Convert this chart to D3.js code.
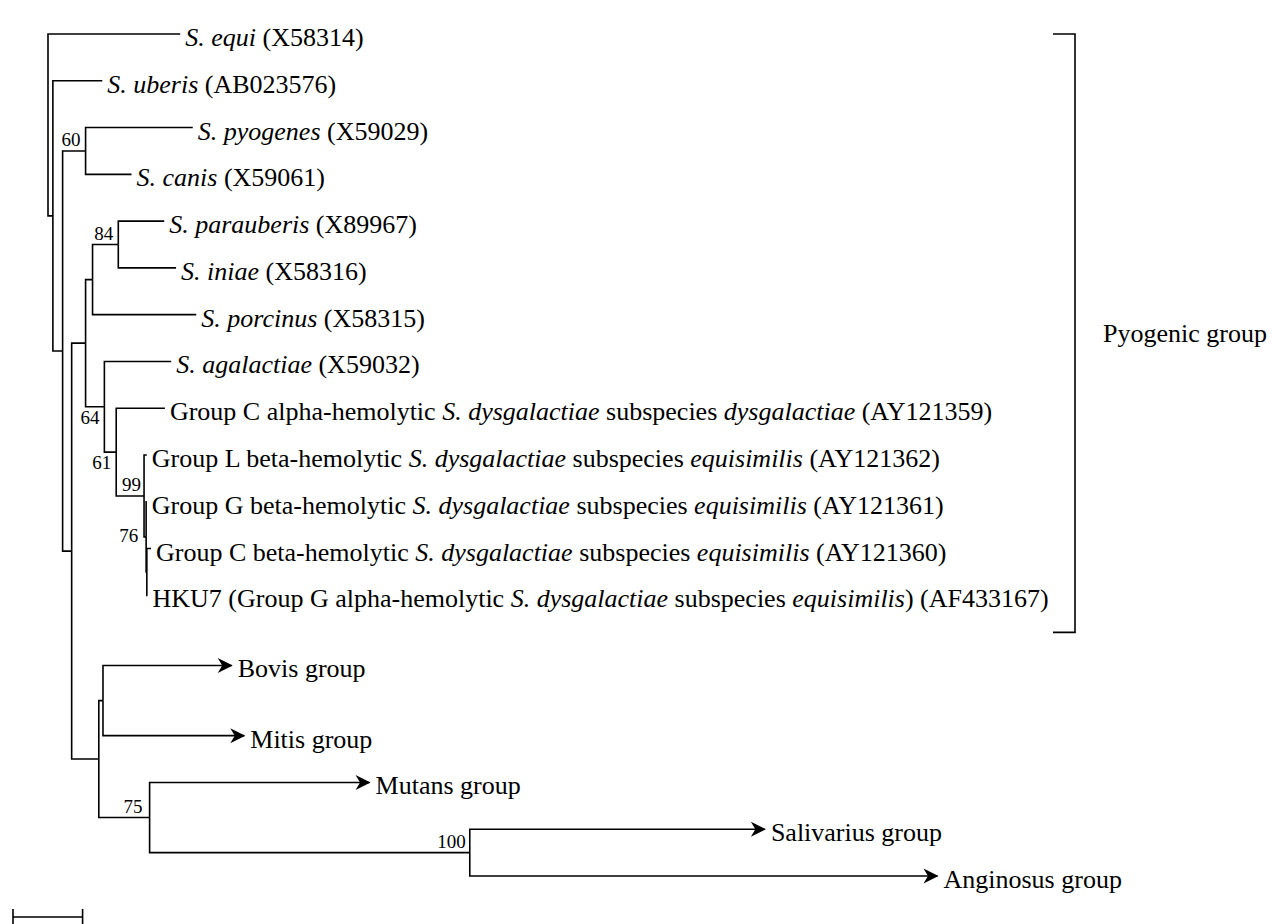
<!DOCTYPE html>
<html>
<head>
<meta charset="utf-8">
<script src="https://cdn.jsdelivr.net/npm/d3@7"></script>
<style>
  body { margin: 0; background: #fff; }
  svg { display: block; }
  text { font-family: "Liberation Serif", "Times New Roman", serif; fill: #000; }
  .branch { fill: none; stroke: #000; stroke-width: 1.6; }
</style>
</head>
<body>
<svg width="1272" height="924"></svg>
<script>
// tree topology: node id, parent id, branch length (substitutions/site)
var nodeIds = ["n0", "equi", "n1", "uberis", "n3", "n60", "pyogenes", "canis",
  "n4", "n5", "n7", "n84", "parauberis", "iniae", "porcinus",
  "n64", "agalactiae", "n61", "cAlpha", "n99", "gL", "n76", "gG", "nc", "cBeta", "hku7",
  "n8", "nBM", "bovis", "mitis", "n75", "mutans", "n100", "salivarius", "anginosus"];
var parentIds = ["", "n0", "n0", "n1", "n1", "n3", "n60", "n60",
  "n3", "n4", "n5", "n7", "n84", "n84", "n7",
  "n5", "n64", "n64", "n61", "n61", "n99", "n99", "n76", "n76", "nc", "nc",
  "n4", "n8", "nBM", "nBM", "n8", "n75", "n75", "n100", "n100"];
var branchLengths = [0, 0.0190, 0.0007, 0.0071, 0.0014, 0.0033, 0.0154, 0.0066,
  0.0013, 0.0020, 0.0010, 0.0037, 0.0066, 0.0083, 0.0149,
  0.0027, 0.0096, 0.0017, 0.0070, 0.0040, 0.0004, 0.0003, 0.0001, 0.0001, 0.0006, 0.0001,
  0.0039, 0.0006, 0.0185, 0.0203, 0.0073, 0.0316, 0.0460, 0.0424, 0.0672];

// leaves: label (italic parts in <i>), row slot, collapsed group or not
var leafIds = ["equi", "uberis", "pyogenes", "canis", "parauberis", "iniae", "porcinus",
  "agalactiae", "cAlpha", "gL", "gG", "cBeta", "hku7",
  "bovis", "mitis", "mutans", "salivarius", "anginosus"];
var leafLabels = [
  "<i>S. equi</i> (X58314)",
  "<i>S. uberis</i> (AB023576)",
  "<i>S. pyogenes</i> (X59029)",
  "<i>S. canis</i> (X59061)",
  "<i>S. parauberis</i> (X89967)",
  "<i>S. iniae</i> (X58316)",
  "<i>S. porcinus</i> (X58315)",
  "<i>S. agalactiae</i> (X59032)",
  "Group C alpha-hemolytic <i>S. dysgalactiae</i> subspecies <i>dysgalactiae</i> (AY121359)",
  "Group L beta-hemolytic <i>S. dysgalactiae</i> subspecies <i>equisimilis</i> (AY121362)",
  "Group G beta-hemolytic <i>S. dysgalactiae</i> subspecies <i>equisimilis</i> (AY121361)",
  "Group C beta-hemolytic <i>S. dysgalactiae</i> subspecies <i>equisimilis</i> (AY121360)",
  "HKU7 (Group G alpha-hemolytic <i>S. dysgalactiae</i> subspecies <i>equisimilis</i>) (AF433167)",
  "Bovis group", "Mitis group", "Mutans group", "Salivarius group", "Anginosus group"];
var leafRows = [0, 1, 2, 3, 4, 5, 6, 7, 8, 9, 10, 11, 12, 13.5, 15, 16, 17, 18];
var collapsedIds = ["bovis", "mitis", "mutans", "salivarius", "anginosus"];

// bootstrap support
var bootNodes = ["n60", "n84", "n64", "n61", "n99", "n76", "n75", "n100"];
var bootValues = [60, 84, 64, 61, 99, 76, 75, 100];

// bracketed group
var groupName = "Pyogenic group";
var groupFirst = "equi", groupLast = "hku7";

var scaleBarValue = 0.01;

var svg = d3.select("svg");

var table = nodeIds.map(function(id, i) {
  return { id: id, parent: parentIds[i], len: branchLengths[i] };
});
var root = d3.stratify()
  .id(function(d) { return d.id; })
  .parentId(function(d) { return d.parent || null; })(table);

var rowOf = {}, labelOf = {};
leafIds.forEach(function(id, i) { rowOf[id] = leafRows[i]; labelOf[id] = leafLabels[i]; });

var x = d3.scaleLinear().domain([0, 0.1]).range([48, 744]);
var y = d3.scaleLinear().domain([0, 18]).range([34, 876]);

root.eachBefore(function(d) { d.dist = d.parent ? d.parent.dist + d.data.len : 0; });
root.eachAfter(function(d) {
  if (d.children) d.row = (d.children[0].row + d.children[d.children.length - 1].row) / 2;
  else d.row = rowOf[d.id];
});

var g = svg.append("g");

g.selectAll("path.branch")
  .data(root.descendants().slice(1))
  .enter().append("path")
    .attr("class", "branch")
    .attr("d", function(d) {
      return "M" + x(d.parent.dist) + "," + y(d.parent.row) +
             "V" + y(d.row) + "H" + x(d.dist);
    });

// arrowheads for collapsed groups
var arrow = "M0,0L-15,-7.5L-10.5,0L-15,7.5Z";
var leaves = root.leaves();
g.selectAll("path.head")
  .data(leaves.filter(function(d) { return collapsedIds.indexOf(d.id) >= 0; }))
  .enter().append("path")
    .attr("class", "head")
    .attr("d", arrow)
    .attr("transform", function(d) { return "translate(" + (x(d.dist) + 1) + "," + y(d.row) + ")"; });

// leaf labels
var label = g.selectAll("text.leaf")
  .data(leaves)
  .enter().append("text")
    .attr("class", "leaf")
    .attr("x", function(d) { return x(d.dist) + (collapsedIds.indexOf(d.id) >= 0 ? 6 : 5); })
    .attr("y", function(d) { return y(d.row); })
    .attr("dy", "0.46em")
    .style("font-size", "26px");

label.each(function(d) {
  var t = d3.select(this);
  labelOf[d.id].split(/(<i>.*?<\/i>)/).forEach(function(part) {
    if (!part) return;
    var it = part.indexOf("<i>") === 0;
    t.append("tspan")
      .style("font-style", it ? "italic" : "normal")
      .text(it ? part.slice(3, -4) : part);
  });
});

// bootstrap values
var below = { n64: 17, n61: 17, n76: 5 };
var shiftX = { n76: 8, n99: 3, n75: 7, n100: 4 };
var byId = {};
root.each(function(d) { byId[d.id] = d; });
g.selectAll("text.boot")
  .data(bootNodes)
  .enter().append("text")
    .attr("class", "boot")
    .attr("text-anchor", "end")
    .style("font-size", "19px")
    .attr("x", function(id) { return x(byId[id].dist) - (shiftX[id] || 5); })
    .attr("y", function(id) { return y(byId[id].row) + (id in below ? below[id] : -5); })
    .text(function(id, i) { return bootValues[i]; });

// group bracket
var bx = 1075,
    bTop = y(rowOf[groupFirst]),
    bBottom = y(rowOf[groupLast]) + 37;
g.append("path")
  .attr("class", "branch")
  .attr("d", "M" + (bx - 22) + "," + bTop + "H" + bx + "V" + bBottom + "H" + (bx - 22));
g.append("text")
  .attr("x", bx + 28)
  .attr("y", (bTop + bBottom) / 2)
  .attr("dy", "0.35em")
  .style("font-size", "26px")
  .text(groupName);

// scale bar
var sb = x(scaleBarValue) - x(0);
var sx = 13, sy = 917;
g.append("path")
  .attr("class", "branch")
  .attr("d", "M" + sx + "," + sy + "H" + (sx + sb) +
             "M" + sx + "," + (sy - 8) + "V" + (sy + 8) +
             "M" + (sx + sb) + "," + (sy - 8) + "V" + (sy + 8));
</script>
</body>
</html>
